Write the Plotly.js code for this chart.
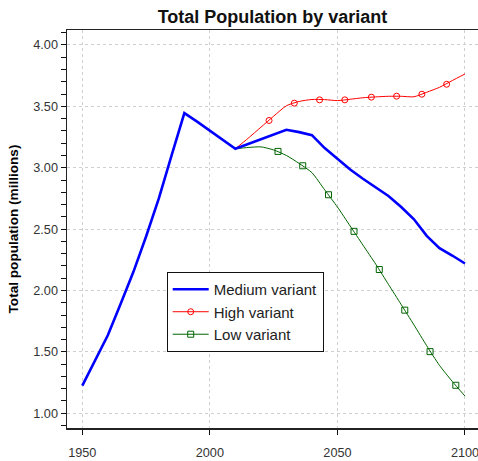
<!DOCTYPE html>
<html>
<head>
<meta charset="utf-8">
<script src="https://cdn.plot.ly/plotly-3.0.1.min.js"></script>
<style>html,body{margin:0;padding:0;background:#fff;overflow:hidden;}</style>
</head>
<body>
<div id="chart" style="width:478px;height:461px;"></div>
<script>
// Medium variant, 5-year steps 1950-2100
const mediumYears = [1950,1955,1960,1965,1970,1975,1980,1985,1990,1995,2000,2005,2010,2015,2020,2025,2030,2035,2040,2045,2050,2055,2060,2065,2070,2075,2080,2085,2090,2095,2100];
const mediumValues = [1.225,1.43,1.635,1.89,2.15,2.44,2.75,3.10,3.445,3.375,3.30,3.228,3.155,3.193,3.232,3.27,3.309,3.29,3.265,3.16,3.07,2.985,2.91,2.84,2.77,2.68,2.58,2.445,2.345,2.285,2.22];

// Projection variants, 5-year steps 2010-2100
const projYears = [2010,2015,2020,2025,2030,2035,2040,2045,2050,2055,2060,2065,2070,2075,2080,2085,2090,2095,2100];
const highValues = [3.155,3.24,3.33,3.42,3.505,3.54,3.556,3.555,3.547,3.558,3.57,3.577,3.582,3.582,3.578,3.615,3.655,3.71,3.764];
const lowValues = [3.155,3.165,3.17,3.145,3.10,3.035,2.96,2.82,2.68,2.525,2.37,2.215,2.05,1.885,1.72,1.55,1.39,1.26,1.14];

// Marker positions along the variant curves
const highMarkYears = [2023.2,2033.1,2043.0,2052.9,2063.3,2073.2,2083.1,2092.8];
const highMarkValues = [3.385,3.526,3.553,3.553,3.575,3.583,3.599,3.68];
const lowMarkYears = [2026.7,2036.4,2046.5,2056.5,2066.4,2076.4,2086.3,2096.4];
const lowMarkValues = [3.133,3.016,2.78,2.482,2.171,1.84,1.502,1.228];

const seriesNames = ["Medium variant","High variant","Low variant"];
const xTicks = [1950,2000,2050,2100];

const BLUE = "#0000FF", RED = "#FF0000", GREEN = "#006400";
const FONT = "'Liberation Sans', Arial, sans-serif";

const traces = [
  {x: projYears, y: highValues, mode: "lines", line: {color: RED, width: 1, shape: "spline", smoothing: 0.6}, showlegend: false, hoverinfo: "skip"},
  {x: highMarkYears, y: highMarkValues, mode: "markers", marker: {symbol: "circle-open", size: 6, color: RED, line: {width: 1, color: RED}}, showlegend: false},
  {x: projYears, y: lowValues, mode: "lines", line: {color: GREEN, width: 1, shape: "spline", smoothing: 0.6}, showlegend: false, hoverinfo: "skip"},
  {x: lowMarkYears, y: lowMarkValues, mode: "markers", marker: {symbol: "square-open", size: 6, color: GREEN, line: {width: 1, color: GREEN}}, showlegend: false},
  {x: mediumYears, y: mediumValues, mode: "lines", name: seriesNames[0], line: {color: BLUE, width: 2.6}, legendrank: 1},
  {x: [null], y: [null], mode: "lines+markers", name: seriesNames[1], line: {color: RED, width: 1}, marker: {symbol: "circle-open", size: 6, color: RED, line: {width: 1, color: RED}}, legendrank: 2},
  {x: [null], y: [null], mode: "lines+markers", name: seriesNames[2], line: {color: GREEN, width: 1}, marker: {symbol: "square-open", size: 6, color: GREEN, line: {width: 1, color: GREEN}}, legendrank: 3}
];

const layout = {
  width: 478, height: 461,
  margin: {l: 67, r: 0, t: 30, b: 33},
  paper_bgcolor: "#fff", plot_bgcolor: "#fff",
  font: {family: FONT, color: "#333"},
  title: {text: "Total Population by variant", font: {family: FONT, size: 18, weight: "bold", color: "#111"}, x: 0.5, xref: "paper", y: 1 - 16.4/461, yref: "container", yanchor: "middle"},
  showlegend: true,
  legend: {x: 0.2426, y: 0.392, xanchor: "left", yanchor: "top", bgcolor: "#fff", bordercolor: "#111", borderwidth: 1, itemwidth: 36, font: {family: FONT, size: 15, color: "#222"}, traceorder: "normal"},
  xaxis: {
    range: [1944.0, 2105.1], tickvals: xTicks, ticktext: xTicks.map(String),
    ticks: "outside", ticklen: 5, tickcolor: "#111", tickwidth: 1,
    showline: true, linecolor: "#222", linewidth: 1.5, mirror: true,
    showgrid: true, gridcolor: "#cfcfcf", griddash: "dot", gridwidth: 1,
    zeroline: false, tickfont: {family: FONT, size: 12.7, color: "#333"}, ticklabelstandoff: 7, ticklabeloverflow: "allow"
  },
  yaxis: {
    range: [0.880, 4.122], dtick: 0.5, tick0: 0, tickformat: ".2f",
    ticks: "outside", ticklen: 5, tickcolor: "#111", tickwidth: 1,
    minor: {dtick: 0.1, tick0: 0, ticks: "outside", ticklen: 5, tickcolor: "#111", showgrid: false},
    showline: true, linecolor: "#222", linewidth: 1.5, mirror: false,
    showgrid: true, gridcolor: "#cfcfcf", griddash: "dot", gridwidth: 1,
    zeroline: false, tickfont: {family: FONT, size: 12.7, color: "#333"},
    title: {text: "Total population (millions)", font: {family: FONT, size: 13.6, weight: "bold", color: "#000"}, standoff: 11}
  }
};

Plotly.newPlot("chart", traces, layout, {displayModeBar: false, staticPlot: true});
</script>
</body>
</html>
